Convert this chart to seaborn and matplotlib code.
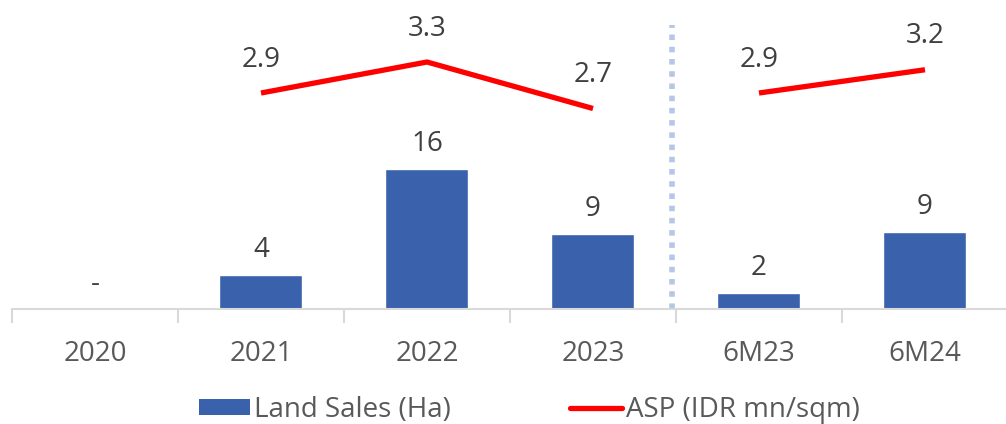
import matplotlib
matplotlib.use("Agg")
import matplotlib.pyplot as plt
import seaborn as sns
import pandas as pd
import numpy as np
from matplotlib.lines import Line2D
from matplotlib.patches import Patch

categories = ["2020", "2021", "2022", "2023", "6M23", "6M24"]
land_sales = [0.0, 3.9, 16.3, 8.7, 1.9, 8.9]
land_labels = ["-", "4", "16", "9", "2", "9"]
asp = [np.nan, 2.9, 3.3, 2.7, 2.9, 3.2]
asp_labels = ["", "2.9", "3.3", "2.7", "2.9", "3.2"]

sns.set_theme(style="white")
plt.rcParams['font.family'] = ['Open Sans', 'DejaVu Sans']

BLUE = "#3A62AC"
RED = "#FF0000"
GREY = "#595959"
FS = 20

fig = plt.figure(figsize=(10.06, 4.24), dpi=100)
ax = fig.add_axes([12/1006, 1 - 309/424, 996/1006, 309/424])

df = pd.DataFrame({"cat": categories, "val": land_sales})
sns.barplot(data=df, x="cat", y="val", color=BLUE, width=0.5, saturation=1, ax=ax)
ax.set_xlim(-0.5, 5.5)
ax.set_ylim(0, 309/8.6)

for i, (v, lab) in enumerate(zip(land_sales, land_labels)):
    ax.annotate(lab, (i, v), xytext=(0, 8), textcoords="offset points",
                ha="center", va="bottom", fontsize=FS, color="#404040")

ax2 = ax.twinx()
ax2.set_ylim(3.3 - (309 - 62) / 77.5, 3.3 + 62 / 77.5)
x = np.arange(len(categories))
seg1 = slice(1, 4)
seg2 = slice(4, 6)
ax2.plot(x[seg1], asp[seg1], color=RED, lw=3.8, solid_capstyle="butt")
ax2.plot(x[seg2], asp[seg2], color=RED, lw=3.8, solid_capstyle="butt")
for i, (v, lab) in enumerate(zip(asp, asp_labels)):
    if lab:
        ax2.annotate(lab, (i, v), xytext=(0, 14), textcoords="offset points",
                     ha="center", va="bottom", fontsize=FS, color="#404040")

ax.axvline(3.475, ymin=0, ymax=(309 - 25) / 309, color="#B4C7E7", lw=4,
           linestyle=(0, (1, 1.2)))

for a in (ax, ax2):
    for s in a.spines.values():
        s.set_visible(False)
    a.set_yticks([])
    a.set_ylabel("")
ax.spines["bottom"].set_visible(True)
ax.spines["bottom"].set_color("#D9D9D9")
ax.spines["bottom"].set_linewidth(1.5)
ax.set_xlabel("")
ax.set_xticks(x)
ax.set_xticklabels(categories)
ax.set_xticks(np.arange(-0.5, 6.0, 1.0), minor=True)
ax.tick_params(axis="x", which="major", length=0, pad=22, labelsize=FS, labelcolor=GREY)
ax.tick_params(axis="x", which="minor", length=10, width=1.5, color="#D9D9D9", bottom=True)

handles = [Patch(facecolor=BLUE, edgecolor="none", label="Land Sales (Ha)"),
           Line2D([0], [0], color=RED, lw=3.8, label="ASP (IDR mn/sqm)")]
fig.legend(handles=handles, loc="center", bbox_to_anchor=(0.526, 1 - 410/424),
           ncol=2, frameon=False, fontsize=FS, labelcolor=GREY,
           handlelength=1.85, handleheight=0.5, handletextpad=0.15, columnspacing=4.3)

fig.savefig("out.png", dpi=100)
